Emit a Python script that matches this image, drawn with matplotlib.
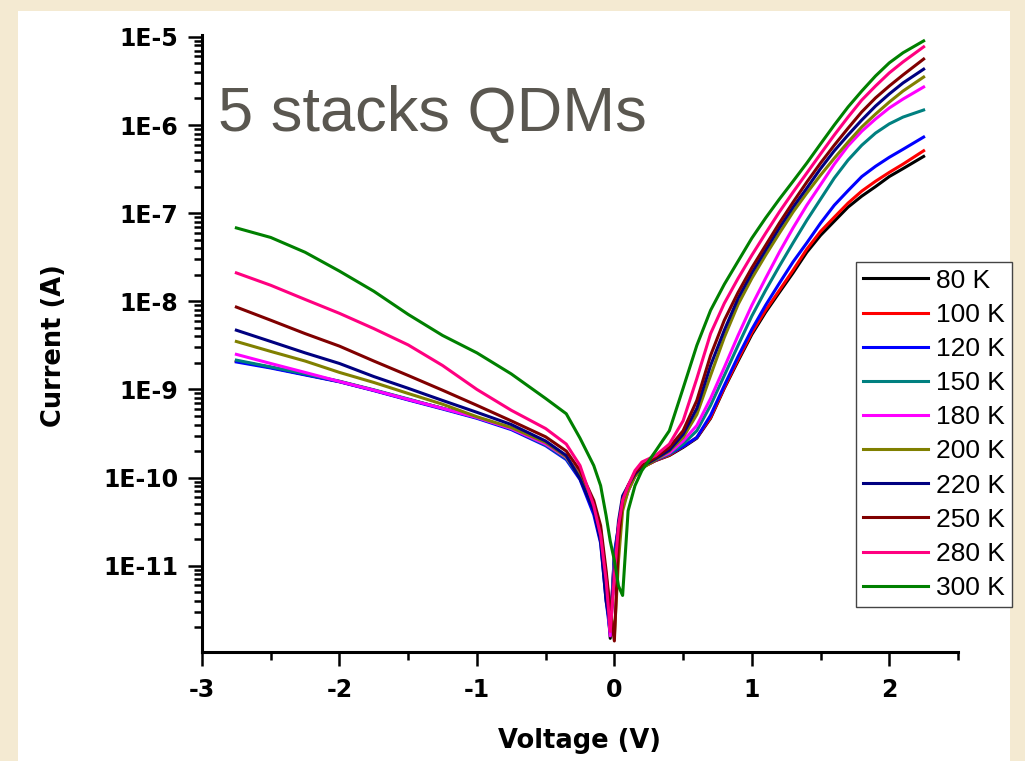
import numpy as np
import matplotlib.pyplot as plt
from matplotlib.patches import Rectangle
from matplotlib.ticker import LogLocator, FuncFormatter, MultipleLocator, NullFormatter

plt.rcParams['axes.unicode_minus'] = False

# Voltaje (V) comun a todas las curvas
voltage = [-2.75, -2.5, -2.25, -2.0, -1.75, -1.5, -1.25, -1.0, -0.75, -0.5,
           -0.35, -0.25, -0.15, -0.1, -0.06, -0.03, 0.0, 0.03, 0.06, 0.1,
           0.15, 0.2, 0.3, 0.4, 0.5, 0.6, 0.7, 0.8, 0.9, 1.0,
           1.1, 1.2, 1.3, 1.4, 1.5, 1.6, 1.7, 1.8, 1.9, 2.0,
           2.1, 2.25]

i_80k = [2.1e-9, 1.78e-9, 1.48e-9, 1.23e-9, 9.8e-10, 7.7e-10, 6.1e-10, 4.8e-10, 3.6e-10, 2.4e-10,
         1.69e-10, 1.05e-10, 4.8e-11, 2.5e-11, 5.9e-12, 1.5e-12, 1.15e-11, 2.5e-11, 4.8e-11, 7.1e-11,
         1.05e-10, 1.3e-10, 1.56e-10, 1.78e-10, 2.2e-10, 2.8e-10, 4.7e-10, 1.03e-9, 2.1e-9, 4.2e-9,
         7.5e-9, 1.26e-8, 2.1e-8, 3.6e-8, 5.6e-8, 8.1e-8, 1.17e-7, 1.56e-7, 2.0e-7, 2.6e-7,
         3.2e-7, 4.4e-7]
i_100k = [2.1e-9, 1.78e-9, 1.48e-9, 1.23e-9, 9.8e-10, 7.7e-10, 6.1e-10, 4.8e-10, 3.6e-10, 2.4e-10,
          1.65e-10, 1.0e-10, 4.4e-11, 2.2e-11, 4.5e-12, 2.0e-12, 1.3e-11, 2.7e-11, 5.0e-11, 7.3e-11,
          1.07e-10, 1.3e-10, 1.56e-10, 1.8e-10, 2.25e-10, 2.85e-10, 4.8e-10, 1.05e-9, 2.19e-9, 4.4e-9,
          7.9e-9, 1.33e-8, 2.25e-8, 3.9e-8, 6.2e-8, 9.0e-8, 1.3e-7, 1.78e-7, 2.3e-7, 2.9e-7,
          3.6e-7, 5.1e-7]
i_120k = [2.05e-9, 1.75e-9, 1.46e-9, 1.22e-9, 9.7e-10, 7.6e-10, 6.0e-10, 4.7e-10, 3.5e-10, 2.3e-10,
          1.6e-10, 9.5e-11, 3.8e-11, 1.8e-11, 4.0e-12, 1.7e-12, 1.4e-11, 2.8e-11, 5.2e-11, 7.5e-11,
          1.08e-10, 1.32e-10, 1.58e-10, 1.85e-10, 2.25e-10, 2.85e-10, 5.1e-10, 1.11e-9, 2.37e-9, 4.8e-9,
          9.0e-9, 1.6e-8, 2.8e-8, 4.6e-8, 7.7e-8, 1.23e-7, 1.8e-7, 2.6e-7, 3.4e-7, 4.3e-7,
          5.3e-7, 7.3e-7]
i_150k = [2.15e-9, 1.8e-9, 1.5e-9, 1.24e-9, 9.9e-10, 7.8e-10, 6.1e-10, 4.8e-10, 3.6e-10, 2.35e-10,
          1.65e-10, 1.0e-10, 4.6e-11, 2.3e-11, 5.0e-12, 1.9e-12, 1.2e-11, 2.6e-11, 5.0e-11, 7.4e-11,
          1.08e-10, 1.34e-10, 1.6e-10, 1.85e-10, 2.4e-10, 3.4e-10, 6.6e-10, 1.44e-9, 3.16e-9, 6.8e-9,
          1.33e-8, 2.5e-8, 4.6e-8, 8.3e-8, 1.44e-7, 2.5e-7, 4.0e-7, 5.9e-7, 8.1e-7, 1.03e-6,
          1.23e-6, 1.48e-6]
i_180k = [2.5e-9, 1.97e-9, 1.56e-9, 1.23e-9, 9.8e-10, 7.7e-10, 6.1e-10, 4.8e-10, 3.6e-10, 2.4e-10,
          1.7e-10, 1.05e-10, 5.0e-11, 2.6e-11, 7.0e-12, 1.6e-12, 1.0e-11, 2.4e-11, 4.6e-11, 7.0e-11,
          1.05e-10, 1.32e-10, 1.62e-10, 1.9e-10, 2.6e-10, 3.9e-10, 7.9e-10, 1.78e-9, 4.1e-9, 9.0e-9,
          1.82e-8, 3.6e-8, 6.8e-8, 1.23e-7, 2.1e-7, 3.6e-7, 5.8e-7, 8.5e-7, 1.17e-6, 1.56e-6,
          1.97e-6, 2.7e-6]
i_200k = [3.5e-9, 2.7e-9, 2.1e-9, 1.56e-9, 1.2e-9, 9.0e-10, 6.8e-10, 4.9e-10, 3.7e-10, 2.5e-10,
          1.73e-10, 1.03e-10, 4.8e-11, 2.37e-11, 7.7e-12, 3.1e-12, 1.6e-12, 1.15e-11, 4.2e-11, 7.1e-11,
          1.03e-10, 1.27e-10, 1.6e-10, 2.0e-10, 2.85e-10, 5.2e-10, 1.44e-9, 3.9e-9, 9.2e-9, 1.82e-8,
          3.33e-8, 5.9e-8, 1.03e-7, 1.69e-7, 2.7e-7, 4.2e-7, 6.4e-7, 9.5e-7, 1.33e-6, 1.82e-6,
          2.43e-6, 3.5e-6]
i_220k = [4.7e-9, 3.5e-9, 2.6e-9, 1.97e-9, 1.4e-9, 1.03e-9, 7.5e-10, 5.5e-10, 4.0e-10, 2.6e-10,
          1.78e-10, 9.7e-11, 4.2e-11, 1.9e-11, 4.0e-12, 2.1e-12, 8.8e-12, 3.2e-11, 6.2e-11, 8.1e-11,
          1.1e-10, 1.33e-10, 1.64e-10, 2.05e-10, 3.1e-10, 6.1e-10, 1.87e-9, 4.7e-9, 1.08e-8, 2.1e-8,
          3.8e-8, 6.8e-8, 1.17e-7, 1.92e-7, 3.2e-7, 5.1e-7, 7.7e-7, 1.14e-6, 1.64e-6, 2.25e-6,
          3.0e-6, 4.3e-6]
i_250k = [8.6e-9, 6.1e-9, 4.3e-9, 3.1e-9, 2.1e-9, 1.44e-9, 9.8e-10, 6.6e-10, 4.4e-10, 2.9e-10,
          2.0e-10, 1.2e-10, 5.5e-11, 2.85e-11, 8.8e-12, 3.1e-12, 1.4e-12, 1.9e-11, 5.5e-11, 8.1e-11,
          1.14e-10, 1.37e-10, 1.69e-10, 2.2e-10, 3.4e-10, 7.5e-10, 2.43e-9, 6.1e-9, 1.26e-8, 2.4e-8,
          4.3e-8, 7.7e-8, 1.33e-7, 2.25e-7, 3.7e-7, 5.9e-7, 9.2e-7, 1.41e-6, 2.03e-6, 2.77e-6,
          3.7e-6, 5.6e-6]
i_280k = [2.1e-8, 1.52e-8, 1.05e-8, 7.3e-9, 4.9e-9, 3.2e-9, 1.87e-9, 1.0e-9, 5.8e-10, 3.6e-10,
          2.4e-10, 1.37e-10, 4.8e-11, 2.2e-11, 6.8e-12, 1.8e-12, 7.7e-12, 2.85e-11, 5.5e-11, 8.1e-11,
          1.2e-10, 1.5e-10, 1.78e-10, 2.4e-10, 4.4e-10, 1.33e-9, 4.3e-9, 9.5e-9, 1.82e-8, 3.33e-8,
          5.9e-8, 1.03e-7, 1.73e-7, 2.85e-7, 4.7e-7, 7.7e-7, 1.23e-6, 1.92e-6, 2.77e-6, 3.9e-6,
          5.2e-6, 7.7e-6]
i_300k = [6.8e-8, 5.3e-8, 3.6e-8, 2.2e-8, 1.3e-8, 7.1e-9, 4.1e-9, 2.6e-9, 1.5e-9, 7.9e-10,
          5.3e-10, 2.8e-10, 1.37e-10, 8.1e-11, 3.7e-11, 1.9e-11, 1.15e-11, 5.9e-12, 4.6e-12, 4.2e-11,
          8.1e-11, 1.2e-10, 2.0e-10, 3.4e-10, 1.03e-9, 3.16e-9, 7.9e-9, 1.56e-8, 2.85e-8, 5.2e-8,
          8.8e-8, 1.44e-7, 2.3e-7, 3.7e-7, 6.1e-7, 1.0e-6, 1.6e-6, 2.43e-6, 3.6e-6, 5.07e-6,
          6.6e-6, 9.0e-6]

labels = ['80 K', '100 K', '120 K', '150 K', '180 K', '200 K', '220 K', '250 K', '280 K', '300 K']
series = [i_80k, i_100k, i_120k, i_150k, i_180k, i_200k, i_220k, i_250k, i_280k, i_300k]
colores = ['#000000', '#FF0000', '#0000FF', '#008080', '#FF00FF',
           '#808000', '#000080', '#800000', '#FF0080', '#008000']

fig = plt.figure(figsize=(10.25, 7.61), dpi=100)
fig.patch.set_facecolor('#F4EAD2')
# panel blanco sobre el fondo beige
fig.add_artist(Rectangle((18 / 1025, 0), (1010 - 18) / 1025, 1 - 11 / 761,
                         transform=fig.transFigure, facecolor='white',
                         edgecolor='none', zorder=0))

ax = fig.add_axes([202 / 1025, 1 - 652 / 761, 756 / 1025, 617 / 761])
ax.set_facecolor('none')

for cur, lab, col in zip(series, labels, colores):
    ax.plot(voltage, cur, color=col, linewidth=2.2, label=lab)

ax.set_yscale('log')
ax.set_xlim(-3, 2.5)
ax.set_ylim(1.05e-12, 1.05e-5)

for s in ['top', 'right']:
    ax.spines[s].set_visible(False)
for s in ['left', 'bottom']:
    ax.spines[s].set_linewidth(2.2)

ax.xaxis.set_major_locator(MultipleLocator(1))
ax.xaxis.set_minor_locator(MultipleLocator(0.5))
ax.yaxis.set_major_locator(LogLocator(base=10, numticks=20))
ax.yaxis.set_minor_locator(LogLocator(base=10, subs=np.arange(2, 10), numticks=20))
ax.yaxis.set_minor_formatter(NullFormatter())
ax.yaxis.set_major_formatter(FuncFormatter(lambda v, p: '1E%d' % int(round(np.log10(v)))))

ax.tick_params(which='major', direction='out', length=10, width=1.8, pad=7,
               labelsize=17, color='black')
ax.tick_params(axis='x', which='major', pad=9)
ax.tick_params(which='minor', direction='out', length=6, width=1.8, color='black')
for t in ax.get_xticklabels() + ax.get_yticklabels():
    t.set_fontweight('bold')

ax.set_xlabel('Voltage (V)', fontsize=18.5, fontweight='bold')
ax.set_ylabel('Current (A)', fontsize=18.5, fontweight='bold')
ax.xaxis.set_label_coords(0.5, -0.123)
ax.yaxis.set_label_coords(-0.178, 0.496)

fig.text(218 / 1025, 1 - 131 / 761, '5 stacks QDMs', fontsize=45.5,
         family='Liberation Sans', color='#5A5750', va='baseline', ha='left')

leg = ax.legend(loc='upper right', bbox_to_anchor=(1012 / 1025, 1 - 262 / 761),
                bbox_transform=fig.transFigure,
                prop={'family': 'Liberation Sans', 'size': 19},
                frameon=True, fancybox=False, edgecolor='#444444', framealpha=1,
                handlelength=2.5, handletextpad=0.3, labelspacing=0.385,
                borderpad=0.25, borderaxespad=0)
leg.get_frame().set_linewidth(1.0)

fig.savefig('out.png', dpi=100, facecolor=fig.get_facecolor())
